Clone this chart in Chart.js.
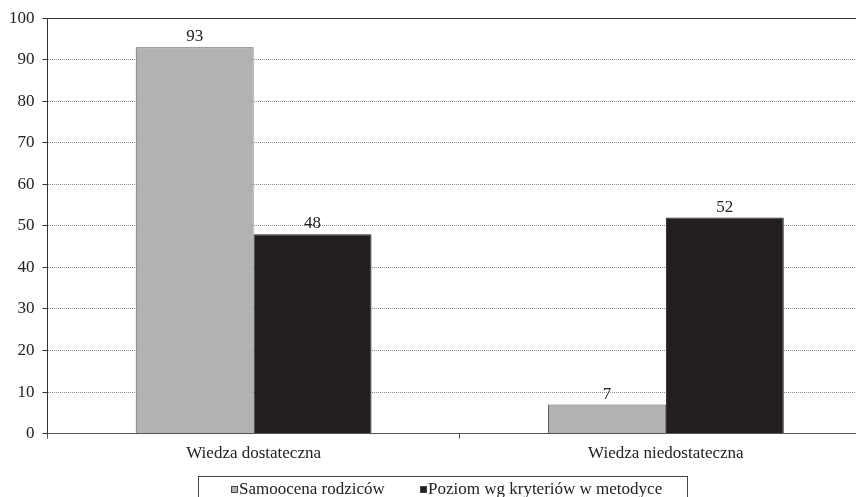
<!DOCTYPE html>
<html>
<head>
<meta charset="utf-8">
<script src="https://cdn.jsdelivr.net/npm/chart.js@4"></script>
<style>
  body { margin: 0; width: 856px; height: 497px; overflow: hidden; background: #fff; }
</style>
</head>
<body>
<canvas id="chart" width="872" height="497"></canvas>
<script>
const categories = ["Wiedza dostateczna", "Wiedza niedostateczna"];
const seriesNames = ["Samoocena rodzic\u00f3w", "Poziom wg kryteri\u00f3w w metodyce"];
const selfAssessment = [93, 7];
const criteriaLevel = [48, 52];
const yTicks = [0, 10, 20, 30, 40, 50, 60, 70, 80, 90, 100];

const colors = ["#b2b2b5", "#231f20"];
const font = "'Liberation Serif', serif";

// value above every bar
const barLabels = {
  id: "barLabels",
  afterDatasetsDraw(chart) {
    const ctx = chart.ctx;
    ctx.save();
    ctx.font = "17px " + font;
    ctx.fillStyle = "#222";
    ctx.textAlign = "center";
    ctx.textBaseline = "alphabetic";
    chart.data.datasets.forEach((ds, i) => {
      chart.getDatasetMeta(i).data.forEach((bar, j) => {
        ctx.fillText(ds.data[j], bar.x, bar.y - 6);
      });
    });
    ctx.restore();
  }
};

// framed legend under the axis
const boxLegend = {
  id: "boxLegend",
  afterDraw(chart) {
    const ctx = chart.ctx;
    ctx.save();
    ctx.strokeStyle = "#444";
    ctx.lineWidth = 1;
    ctx.strokeRect(198.5, 476.5, 489, 40);
    ctx.font = "17px " + font;
    ctx.textBaseline = "alphabetic";
    const xs = [231, 420];
    chart.data.datasets.forEach((ds, i) => {
      ctx.fillStyle = ds.backgroundColor;
      ctx.fillRect(xs[i], 486, 7, 7);
      ctx.strokeRect(xs[i] + 0.5, 486.5, 6, 6);
      ctx.fillStyle = "#222";
      ctx.fillText(ds.label.normalize("NFC"), xs[i] + 8, 494);
    });
    ctx.restore();
  }
};

const chart = new Chart(document.getElementById("chart"), {
  type: "bar",
  data: {
    labels: categories,
    datasets: [
      { label: seriesNames[0], data: selfAssessment, backgroundColor: colors[0], borderColor: "#555", borderWidth: 1 },
      { label: seriesNames[1], data: criteriaLevel, backgroundColor: colors[1], borderColor: "#222", borderWidth: 1 }
    ]
  },
  options: {
    responsive: false,
    animation: false,
    events: [],
    layout: { padding: { top: 17, left: 1, right: 0, bottom: 28 } },
    categoryPercentage: 0.572,
    barPercentage: 1,
    plugins: { legend: { display: false }, tooltip: { enabled: false } },
    scales: {
      x: {
        grid: { drawOnChartArea: false, tickLength: 5, tickColor: "#555", offset: true },
        border: { color: "#555", width: 1 },
        ticks: { color: "#222", font: { family: font, size: 17 }, padding: 5 }
      },
      y: {
        min: 0, max: 100,
        afterBuildTicks: axis => { axis.ticks = yTicks.map(v => ({ value: v })); },
        grid: {
          color: ctx => ctx.tick && ctx.tick.value === 100 ? "#333" : "#8a8a8a",
          lineWidth: 1,
          tickLength: 5,
          tickColor: "#333",
          tickBorderDash: []
        },
        border: {
          color: "#333", width: 1,
          dash: ctx => ctx.tick && ctx.tick.value === 100 ? [] : [1, 1]
        },
        ticks: { color: "#222", font: { family: font, size: 17 }, padding: 8 }
      }
    }
  },
  plugins: [barLabels, boxLegend]
});
</script>
</body>
</html>
